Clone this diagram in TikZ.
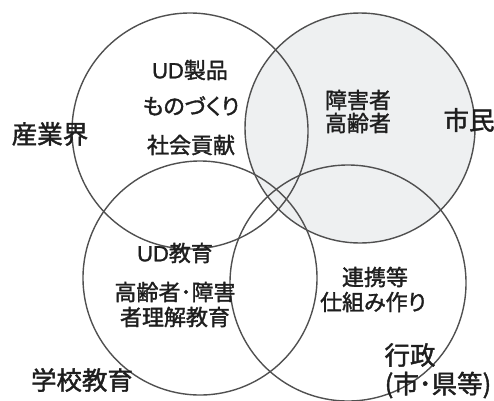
\documentclass[tikz,border=0pt]{standalone}
\usepackage{fontspec}
\setmainfont{Noto Sans CJK JP}[FakeBold=1.6]
\newfontfamily\latn{Liberation Sans}[FakeBold=1.2]
\definecolor{ringline}{HTML}{505050}
\definecolor{citizenfill}{HTML}{EEF0F1}
\definecolor{txt}{HTML}{1E1E1E}
\begin{document}
\begin{tikzpicture}[x=1pt,y=-1pt,
  ring/.style={draw=ringline,line width=1.4pt},
  inner/.style={text=txt,font=\fontsize{22}{24}\selectfont,inner sep=0pt,anchor=center},
  outer/.style={text=txt,font=\fontsize{25.5}{28}\selectfont,inner sep=0pt,anchor=center}]
\useasboundingbox (0,0) rectangle (494,400);
% filled circle (citizens)
\fill[citizenfill] (360,128) circle (115);
% outlines
\draw[ring] (190,131) circle (118);
\draw[ring] (360,128) circle (115);
\draw[ring] (200,278) circle (117);
\draw[ring] (348,283) circle (118);
% texts
\node[inner] (ud1) at (190,70) {{\latn UD}製品};
\node[inner] (mono) at (191,106) {\addfontfeature{RawFeature=+palt}ものづくり};
\node[inner] (shakai) at (191,145) {社会貢献};
\node[outer] (sangyo) at (50,134) {産業界};
\node[inner] (shoga) at (358,100) {障害者};
\node[inner] (korei) at (358,123) {高齢者};
\node[outer] (shimin) at (469,120) {市民};
\node[inner] (udedu) at (175,253) {{\latn UD}教育};
\node[inner] (rikai1) at (175,292) {高齢者･障害};
\node[inner] (rikai2) at (175,317) {者理解教育};
\node[inner] (renkei) at (375,277) {連携等};
\node[inner] (shikumi) at (373,302) {\addfontfeature{RawFeature=+palt}仕組み作り};
\node[outer] (gakko) at (82,380) {学校教育};
\node[outer] (gyosei) at (410,355) {行政};
\node[outer] (shiken) at (438,385) {(市･県等)};
\end{tikzpicture}
\end{document}
